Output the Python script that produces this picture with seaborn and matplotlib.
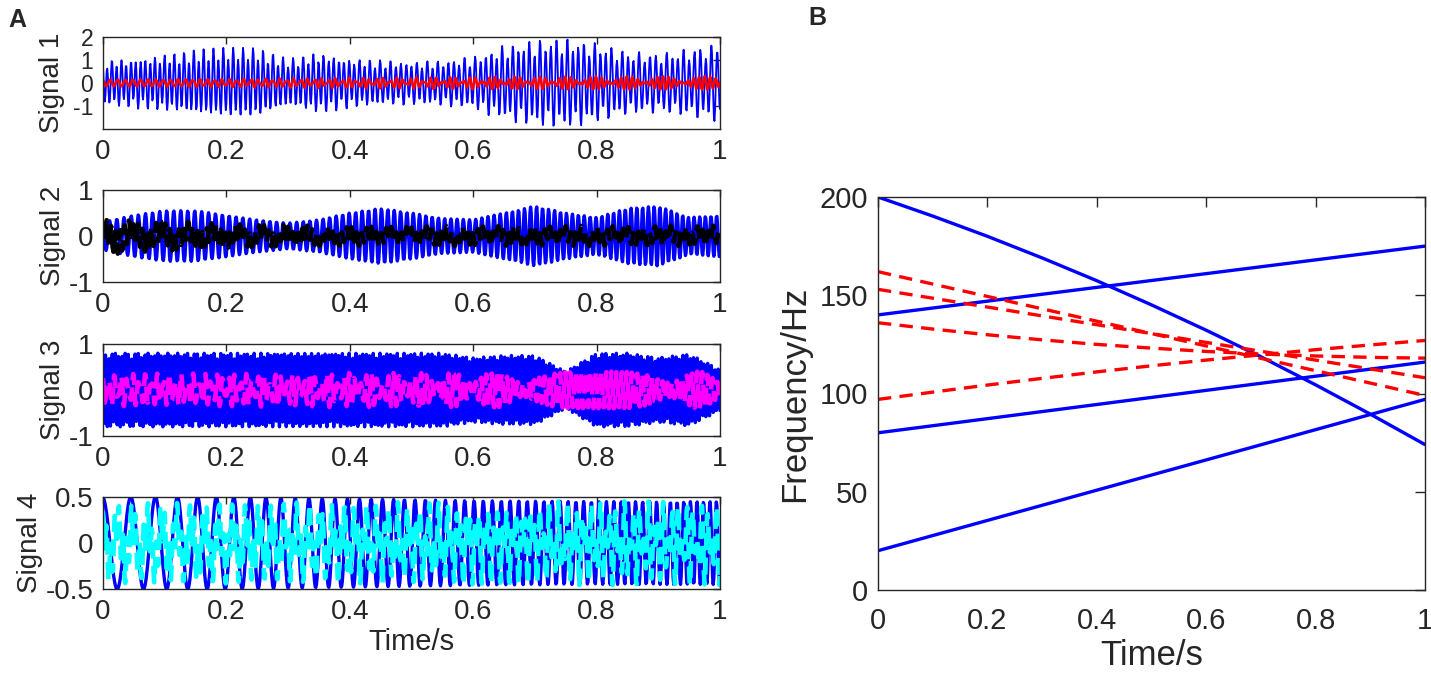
import numpy as np
import matplotlib
matplotlib.use('Agg')
import matplotlib.pyplot as plt
import seaborn as sns
from matplotlib.ticker import FuncFormatter

t_knots = [0, 0.2, 0.4, 0.6, 0.8, 1.0]
b_knots = [0, 0.1, 0.2, 0.3, 0.4, 0.5, 0.6, 0.7, 0.8, 0.9, 1.0]

# panel B: instantaneous frequencies (Hz) at b_knots
blue_tracks = [
    [200, 190.3, 180, 169, 157.4, 145.1, 132.2, 118.7, 104.4, 89.5, 74],
    [140, 143.5, 147, 150.5, 154, 157.5, 161, 164.5, 168, 171.5, 175],
    [80, 83.6, 87.2, 90.8, 94.4, 98, 101.6, 105.2, 108.8, 112.4, 116],
    [20, 27.7, 35.4, 43.1, 50.8, 58.5, 66.2, 73.9, 81.6, 89.3, 97],
]
red_tracks = [
    [162, 155.7, 149.4, 143.1, 136.8, 130.5, 124.2, 117.9, 111.6, 105.3, 99],
    [153, 148.5, 144, 139.5, 135, 130.5, 126, 121.5, 117, 112.5, 108],
    [136, 132.8, 129.9, 127.3, 125, 123.1, 121.4, 120.1, 119.1, 118.4, 118],
    [97, 100.7, 104.3, 107.7, 111, 114.1, 117, 119.7, 122.3, 124.7, 127],
]

# panel A: envelopes read every 0.05 s
env_t = np.linspace(0, 1, 21)
sig1_env = [1.0, 1.1, 1.25, 1.45, 1.55, 1.55, 1.05, 1.35, 1.1, 1.0, 0.95,
            1.0, 1.15, 1.65, 1.9, 2.0, 1.75, 1.4, 1.3, 1.5, 1.75]
sig2_env = [0.3, 0.45, 0.55, 0.55, 0.45, 0.35, 0.28, 0.35, 0.5, 0.6, 0.5,
            0.38, 0.35, 0.5, 0.65, 0.5, 0.4, 0.6, 0.65, 0.4, 0.45]
sig3_env = [0.8, 0.8, 0.8, 0.8, 0.8, 0.8, 0.8, 0.8, 0.8, 0.8, 0.8,
            0.8, 0.7, 0.75, 0.75, 0.4, 0.8, 0.8, 0.7, 0.78, 0.45]

# apparent carrier frequencies (Hz) and amplitudes at t_knots
sig1_f = [130, 125, 120, 115, 112, 110]
sig1_f2 = [60, 62, 64, 66, 68, 70]
sig1_red_a = [0.14, 0.14, 0.14, 0.14, 0.14, 0.14]
sig1_red_f = [80, 85, 90, 95, 100, 105]
sig1_red2_a = [0.0, 0.04, 0.09, 0.13, 0.15, 0.16]
sig1_red2_f = [150, 140, 130, 125, 120, 118]
sig2_f = [85, 90, 95, 100, 105, 110]
sig2_blk_a = [0.26, 0.17, 0.13, 0.14, 0.14, 0.15]
sig2_blk_f = [140, 130, 125, 120, 118, 115]
sig2_blk2_a = [0.14, 0.1, 0.08, 0.08, 0.08, 0.08]
sig2_blk2_f = [20, 25, 30, 35, 40, 45]
sig3_f = [190, 185, 180, 178, 176, 175]
sig3_mag_a = [0.24, 0.24, 0.25, 0.26, 0.28, 0.28]
sig3_mag_f = [100, 105, 110, 115, 120, 125]
sig3_mag2_a = [0.12, 0.12, 0.12, 0.12, 0.12, 0.12]
sig3_mag2_f = [160, 150, 140, 130, 120, 110]
sig4_a = [0.5, 0.5, 0.48, 0.46, 0.45, 0.45]
sig4_cy_a = [0.22, 0.22, 0.22, 0.22, 0.22, 0.22]
sig4_cy_f = [40, 45, 55, 65, 75, 85]
sig4_cy2_a = [0.22, 0.22, 0.22, 0.23, 0.24, 0.24]
sig4_cy2_f = [150, 145, 140, 135, 130, 125]

fs = 1000
t = np.arange(0, 1 + 1 / fs, 1 / fs)


def comp(amp, freq, amp_t=t_knots, f_t=t_knots):
    f = np.interp(t, f_t, freq)
    ph = 2 * np.pi * np.cumsum(f) / fs
    return np.interp(t, amp_t, amp) * np.cos(ph)


s1_blue = 0.82 * comp(sig1_env, sig1_f, env_t) + 0.18 * comp(sig1_env, sig1_f2, env_t)
s1_red = comp(sig1_red_a, sig1_red_f) + comp(sig1_red2_a, sig1_red2_f)
s2_blue = comp(sig2_env, sig2_f, env_t)
s2_blk = comp(sig2_blk_a, sig2_blk_f) + comp(sig2_blk2_a, sig2_blk2_f)
s3_blue = comp(sig3_env, sig3_f, env_t)
s3_mag = comp(sig3_mag_a, sig3_mag_f) + comp(sig3_mag2_a, sig3_mag2_f)
s4_blue = comp(sig4_a, blue_tracks[3], f_t=b_knots)
s4_cy = comp(sig4_cy_a, sig4_cy_f) + comp(sig4_cy2_a, sig4_cy2_f)

sns.set_style('white')
plt.rcParams['font.family'] = ['Liberation Sans', 'DejaVu Sans']
plt.rcParams['axes.unicode_minus'] = False

W, H = 1431, 673
fig = plt.figure(figsize=(W / 100, H / 100), dpi=100)
TXT = '#262626'


def px_axes(left, top, right, bottom):
    return fig.add_axes([left / W, 1 - bottom / H, (right - left) / W, (bottom - top) / H])


fmt = FuncFormatter(lambda v, p: '%g' % v)


def style(ax, size):
    ax.tick_params(direction='in', top=True, right=True, labelsize=size,
                   length=5, width=1, pad=7, colors=TXT)
    ax.xaxis.set_major_formatter(fmt)
    ax.yaxis.set_major_formatter(fmt)
    for s in ax.spines.values():
        s.set_linewidth(1.0)
        s.set_color(TXT)


signals = [
    ('Signal 1', s1_blue, 1.3, s1_red, '#FF0000', '-', 1.8, (-2, 2), [-1, 0, 1, 2]),
    ('Signal 2', s2_blue, 2.4, s2_blk, '#000000', '--', 3.3, (-1, 1), [-1, 0, 1]),
    ('Signal 3', s3_blue, 2.4, s3_mag, '#FF00FF', '--', 3.3, (-1, 1), [-1, 0, 1]),
    ('Signal 4', s4_blue, 2.4, s4_cy, '#00FFFF', '--', 3.3, (-0.5, 0.5), [-0.5, 0, 0.5]),
]
tops = [37, 190, 344, 497]
for i, (name, sb, lwb, so, col, ls, lwo, ylim, yt) in enumerate(signals):
    ax = px_axes(103, tops[i], 720, tops[i] + 92)
    sns.lineplot(x=t, y=sb, ax=ax, color='#0000FF', linewidth=lwb,
                 estimator=None, sort=False)
    sns.lineplot(x=t, y=so, ax=ax, color=col, linewidth=lwo, linestyle=ls,
                 estimator=None, sort=False)
    ax.set_xlim(0, 1)
    ax.set_ylim(*ylim)
    ax.set_yticks(yt)
    ax.set_xticks([0, 0.2, 0.4, 0.6, 0.8, 1])
    style(ax, 20)
    if i == 0:
        # four labels share 92 px here, keep them from colliding
        ax.tick_params(axis='y', labelsize=16.5)
    ax.set_ylabel(name, fontsize=20, color=TXT, labelpad=2 if i else 6)
    if i == 3:
        ax.set_xlabel('Time/s', fontsize=21, color=TXT, labelpad=2)

# panel B
axb = px_axes(878, 197, 1425, 590)
for tr in blue_tracks:
    sns.lineplot(x=b_knots, y=tr, ax=axb, color='#0000FF', linewidth=2.4,
                 estimator=None, sort=False)
for tr in red_tracks:
    sns.lineplot(x=b_knots, y=tr, ax=axb, color='#FF0000', linewidth=2.4,
                 linestyle=(0, (4, 2.5)), estimator=None, sort=False)
axb.set_xlim(0, 1)
axb.set_ylim(0, 200)
axb.set_xticks([0, 0.2, 0.4, 0.6, 0.8, 1])
axb.set_yticks([0, 50, 100, 150, 200])
style(axb, 21)
axb.tick_params(length=7)
axb.tick_params(axis='x', pad=12)
axb.set_xlabel('Time/s', fontsize=25, color=TXT, labelpad=3)
axb.set_ylabel('Frequency/Hz', fontsize=25, color=TXT, labelpad=6)

fig.text(8 / W, 1 - 20 / H, 'A', fontsize=18, fontweight='bold', va='center')
fig.text(808 / W, 1 - 18 / H, 'B', fontsize=18, fontweight='bold', va='center')

fig.savefig('out.png', dpi=100)
